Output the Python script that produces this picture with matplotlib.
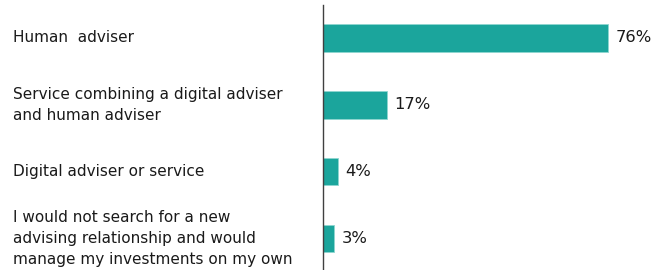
import matplotlib
matplotlib.use('Agg')
import matplotlib.pyplot as plt
from matplotlib.transforms import blended_transform_factory

categories = [
    'Human  adviser',
    'Service combining a digital adviser\nand human adviser',
    'Digital adviser or service',
    'I would not search for a new\nadvising relationship and would\nmanage my investments on my own',
]
values = [76, 17, 4, 3]
value_labels = ['76%', '17%', '4%', '3%']

fig = plt.figure(figsize=(6.67, 2.70), dpi=100)
ax = fig.add_axes([0.484, 0.0, 0.516, 0.981])

ypos = list(range(len(values)))
ax.barh(ypos, values, height=0.41, color='#1ba59c', edgecolor='#8fd6d0', linewidth=0.6)

ax.set_xlim(0, 91.7)
ax.set_ylim(3.47, -0.49)

for s in ['top', 'right', 'bottom']:
    ax.spines[s].set_visible(False)
ax.spines['left'].set_color('#404040')
ax.spines['left'].set_linewidth(1.0)
ax.set_xticks([])
ax.set_yticks([])

for y, v, lab in zip(ypos, values, value_labels):
    ax.text(v + 2.0, y, lab, va='center', ha='left', fontsize=11.8, color='#1a1a1a')

trans = blended_transform_factory(fig.transFigure, ax.transData)
for y, cat in zip(ypos, categories):
    ax.text(13 / 667, y, cat, transform=trans, va='center', ha='left',
            fontsize=11, color='#1a1a1a', linespacing=1.5)

fig.savefig('out.png', dpi=100)
